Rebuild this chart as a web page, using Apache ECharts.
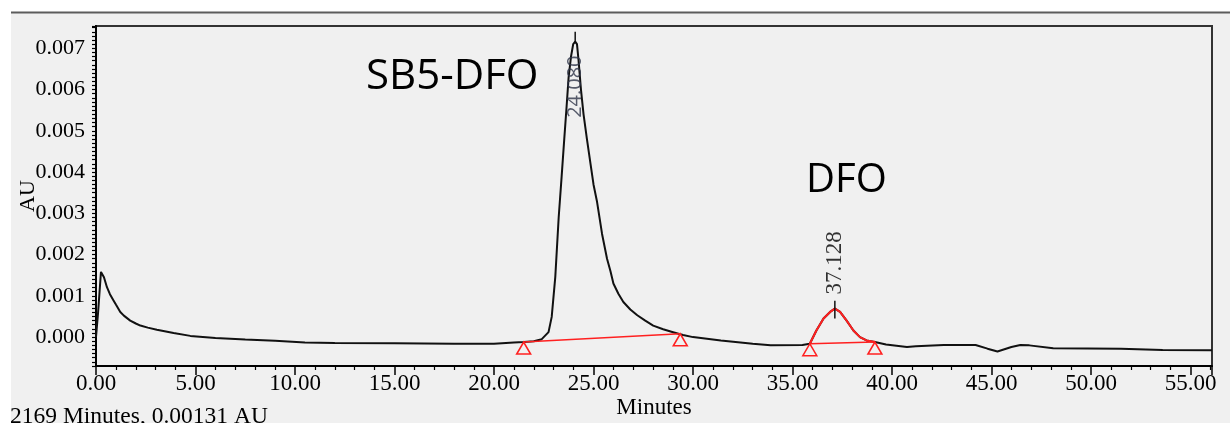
<!DOCTYPE html>
<html>
<head>
<meta charset="utf-8">
<script src="https://cdn.jsdelivr.net/npm/echarts@6/dist/echarts.min.js"></script>
<style>
  html, body { margin: 0; padding: 0; background: #fff; }
  #main { width: 1230px; height: 423px; }
</style>
</head>
<body>
<div id="main"></div>
<script>
// chromatogram trace (minutes / AU)
var traceTime = [0.00, 0.08, 0.10, 0.20, 0.25, 0.32, 0.40, 0.55, 0.70, 0.88, 1.00, 1.22, 1.40, 1.72, 2.00, 2.23, 2.60, 3.06, 3.90, 4.74,
  6.00, 7.50, 9.00, 10.50, 12.00, 15.00, 18.00, 20.00, 21.00, 21.50, 22.00, 22.40, 22.74, 22.90,
  23.08, 23.25, 23.40, 23.53, 23.65, 23.75, 23.87, 23.98, 24.08, 24.17, 24.25, 24.37, 24.50, 24.67, 24.85, 25.00, 25.17, 25.43, 25.68, 25.85, 26.00,
  26.25, 26.50, 26.85, 27.20, 27.60, 28.00, 28.50, 29.00, 29.50, 30.00, 31.40, 33.00, 33.90, 35.50, 35.87, 36.20, 36.56, 36.89, 37.13,
  37.39, 37.72, 38.06, 38.39, 38.72, 39.14, 39.70, 40.75, 41.20, 42.60, 44.20, 44.80, 45.30, 46.00,
  46.45, 46.90, 48.10, 51.50, 53.60, 56.08];
var traceAU = [0.00000, 0.00000, 0.00057, 0.00057, 0.00158, 0.00162, 0.00145, 0.00121, 0.00104, 0.00089, 0.00079, 0.00061, 0.00052, 0.00040, 0.00033, 0.00028, 0.00023, 0.00018, 0.00010, 0.00003,
  -0.00002, -0.00006, -0.00009, -0.00013, -0.00014, -0.00015, -0.00016, -0.00016, -0.00013, -0.00012, -0.00010, -0.00005, 0.00012, 0.00049,
  0.00146, 0.00290, 0.00390, 0.00480, 0.00560, 0.00630, 0.00680, 0.00710, 0.00716, 0.00710, 0.00670, 0.00600, 0.00540, 0.00480, 0.00420, 0.00370, 0.00330, 0.00250, 0.00190, 0.00160, 0.00130,
  0.00105, 0.00085, 0.00067, 0.00053, 0.00040, 0.00028, 0.00019, 0.00012, 0.00005, 0.00000, -0.00008, -0.00016, -0.00020, -0.00019, -0.00016, 0.00016, 0.00045, 0.00061, 0.00069,
  0.00061, 0.00040, 0.00016, 0.00000, -0.00008, -0.00012, -0.00018, -0.00024, -0.00022, -0.00019, -0.00019, -0.00028, -0.00035, -0.00024,
  -0.00019, -0.00020, -0.00027, -0.00028, -0.00031, -0.00032];

// integration baselines (start / end points)
var baseTime1 = [21.49, 29.36];
var baseAU1 = [-0.00012, 0.00008];
var baseTime2 = [35.87, 39.14];
var baseAU2 = [-0.00016, -0.00012];

// retention time labels
var peakTimes = [24.080, 37.128];
var peakLabelAU = [0.00607, 0.00180];
var peakMarkTop = [0.00740, 0.00088];
var peakMarkBottom = [0.00712, 0.00045];

// axis tick labels
var yTicks = [0.000, 0.001, 0.002, 0.003, 0.004, 0.005, 0.006, 0.007];
var xMin = 0, xMax = 56.08, xStep = 5;
var yMin = -0.0007, yMax = 0.00754, yStep = 0.0001;

var trace = traceTime.map(function (t, i) { return [t, traceAU[i]]; });
// DFO peak is drawn red over the black trace
var dfoPeak = trace.filter(function (p) { return p[0] >= baseTime2[0] && p[0] <= baseTime2[1]; });
var base1 = baseTime1.map(function (t, i) { return [t, baseAU1[i]]; });
var base2 = baseTime2.map(function (t, i) { return [t, baseAU2[i]]; });
var peakMarks = [];
peakTimes.forEach(function (t, i) {
  if (i > 0) peakMarks.push(['-', '-']);
  peakMarks.push([t, peakMarkTop[i]]);
  peakMarks.push([t, peakMarkBottom[i]]);
});

var serif = "'Liberation Serif', 'Times New Roman', serif";
var sans = "'Open Sans', 'Noto Sans', sans-serif";
var red = '#ff2020';

var chart = echarts.init(document.getElementById('main'));
var triangle = {
  symbol: 'triangle',
  symbolSize: [14, 12],
  symbolOffset: [0, 6],
  showSymbol: true,
  showAllSymbol: true,
  itemStyle: { color: '#f0f0f0', borderColor: red, borderWidth: 1.5 }
};

var option = {
  backgroundColor: '#f0f0f0',
  animation: false,
  grid: {
    left: 96, right: 18, top: 26, bottom: 57,
    outerBoundsMode: 'none',
    show: true, borderColor: '#333', borderWidth: 2, backgroundColor: 'transparent'
  },
  xAxis: {
    type: 'value', min: xMin, max: xMax, interval: xStep, position: 'bottom',
    name: 'Minutes', nameLocation: 'middle', nameGap: 30, nameMoveOverlap: false,
    nameTextStyle: { fontFamily: serif, fontSize: 23, color: '#000' },
    axisLine: { show: true, onZero: false, lineStyle: { color: '#000', width: 2 } },
    axisTick: { show: true, inside: false, length: 9, lineStyle: { color: '#000', width: 1.5 } },
    minorTick: { show: true, splitNumber: 5, length: 4, lineStyle: { color: '#000', width: 1.2 } },
    axisLabel: {
      showMaxLabel: false, margin: 6, fontFamily: serif, fontSize: 23, color: '#000',
      formatter: function (v) { return v.toFixed(2); }
    },
    splitLine: { show: false },
    minorSplitLine: { show: false }
  },
  yAxis: {
    type: 'value', min: yMin, max: yMax, interval: yStep, position: 'left',
    name: 'AU', nameLocation: 'middle', nameGap: 57, nameRotate: 90, nameMoveOverlap: false,
    nameTextStyle: { fontFamily: serif, fontSize: 22, color: '#000' },
    axisLine: { show: true, onZero: false, lineStyle: { color: '#000', width: 2 } },
    axisTick: { show: true, inside: false, length: 4, lineStyle: { color: '#000', width: 1.2 } },
    axisLabel: {
      customValues: yTicks, margin: 11, fontFamily: serif, fontSize: 22, color: '#000',
      formatter: function (v) { return v.toFixed(3); }
    },
    splitLine: { show: false }
  },
  series: [
    {
      name: 'trace', type: 'line', data: trace, symbol: 'none', z: 2,
      lineStyle: { color: '#111', width: 2 }
    },
    {
      name: 'DFO peak', type: 'line', data: dfoPeak, symbol: 'none', z: 3,
      lineStyle: { color: red, width: 2 }
    },
    Object.assign({
      name: 'baseline 1', type: 'line', data: base1, z: 4,
      lineStyle: { color: red, width: 1.5 }
    }, triangle),
    Object.assign({
      name: 'baseline 2', type: 'line', data: base2, z: 4,
      lineStyle: { color: red, width: 1.5 }
    }, triangle),
    {
      name: 'peak marks', type: 'line', data: peakMarks, symbol: 'none', z: 5,
      connectNulls: false,
      lineStyle: { color: '#111', width: 1.5 }
    },
    {
      name: 'peak labels', type: 'scatter', symbolSize: 0, z: 6,
      data: [
        {
          value: [peakTimes[0], peakLabelAU[0]],
          label: {
            show: true, position: 'inside', rotate: 90,
            formatter: peakTimes[0].toFixed(3),
            fontFamily: sans, fontSize: 20, color: '#2e3448'
          }
        },
        {
          value: [peakTimes[1], peakLabelAU[1]],
          label: {
            show: true, position: 'inside', rotate: 90,
            formatter: peakTimes[1].toFixed(3),
            fontFamily: serif, fontSize: 23, color: '#000'
          }
        }
      ]
    }
  ],
  graphic: [
    { type: 'rect', shape: { x: 0, y: 0, width: 1230, height: 12 }, style: { fill: '#fff' }, z: 0 },
    { type: 'rect', shape: { x: 0, y: 0, width: 11, height: 423 }, style: { fill: '#fff' }, z: 0 },
    { type: 'line', shape: { x1: 11, y1: 12.5, x2: 1230, y2: 12.5 }, style: { stroke: '#5c5c5c', lineWidth: 2 }, z: 1 },
    {
      type: 'text', left: 366, top: 56, z: 10,
      style: { text: 'SB5-DFO', font: '42px ' + sans, fill: '#000' }
    },
    {
      type: 'text', left: 806, top: 161, z: 10,
      style: { text: 'DFO', font: '40px ' + sans, fill: '#000' }
    },
    {
      type: 'text', left: 10, top: 405, z: 10,
      style: { text: '2169 Minutes, 0.00131 AU', font: '23.5px ' + serif, fill: '#000' }
    }
  ]
};

chart.setOption(option);
</script>
</body>
</html>
